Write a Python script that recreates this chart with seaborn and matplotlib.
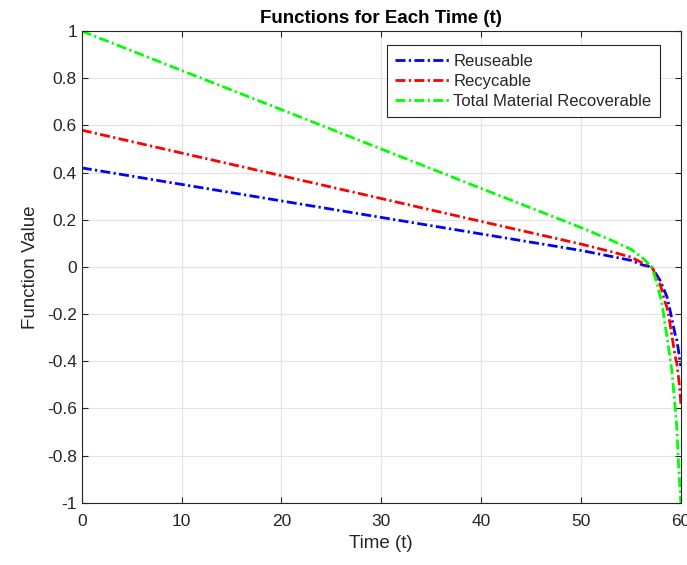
import numpy as np
import pandas as pd
import matplotlib
matplotlib.use("Agg")
import matplotlib.pyplot as plt
import seaborn as sns

# values
t = [0, 10, 20, 30, 40, 50, 53, 55, 56.2, 57.1, 57.6, 57.9, 58.1, 58.4,
     58.6, 58.8, 59.1, 59.4, 59.6, 59.75, 59.9, 60]
reuse = [0.42, 0.35, 0.28, 0.21, 0.14, 0.07, 0.045, 0.028, 0.008, 0.0, -0.035,
         -0.055, -0.075, -0.105, -0.125, -0.16, -0.22, -0.28, -0.31, -0.35, -0.395, -0.42]
recycle = [0.58, 0.483, 0.387, 0.29, 0.193, 0.097, 0.065, 0.042, 0.016, 0.0, -0.045,
           -0.07, -0.10, -0.145, -0.17, -0.21, -0.29, -0.37, -0.41, -0.46, -0.52, -0.58]
total = [1.0, 0.833, 0.667, 0.5, 0.333, 0.167, 0.114, 0.075, 0.037, 0.0, -0.068,
         -0.12, -0.15, -0.24, -0.29, -0.35, -0.44, -0.58, -0.68, -0.82, -0.93, -1.0]

series_names = ["Reuseable", "Recycable", "Total Material Recoverable"]
series_colors = ["#0000ff", "#ff0000", "#00ff00"]

sns.set_style("whitegrid")
plt.rcParams['font.family'] = ['Liberation Sans', 'DejaVu Sans']
plt.rcParams['axes.unicode_minus'] = False

df = pd.DataFrame({"t": t * 3,
                   "value": reuse + recycle + total,
                   "series": [series_names[0]] * len(t) + [series_names[1]] * len(t)
                             + [series_names[2]] * len(t)})

fig = plt.figure(figsize=(6.87, 5.65), dpi=100)
ax = fig.add_axes([0.119, 0.110, 0.872, 0.835])

dashdot = (0, (3.6, 1.2, 0.8, 1.2))
for name, col in zip(series_names, series_colors):
    sub = df[df["series"] == name]
    sns.lineplot(data=sub, x="t", y="value", ax=ax, color=col, linewidth=2,
                 linestyle=dashdot, label=name)

ax.set_xlim(0, 60)
ax.set_ylim(-1, 1)
ax.set_xticks(np.arange(0, 61, 10))
yt = np.round(np.arange(-1, 1.01, 0.2), 1) + 0.0
ax.set_yticks(yt)
ax.set_yticklabels([f"{v + 0.0:g}" for v in yt])

text_col = "#262626"
ax.grid(True, color="#e3e3e3", linewidth=0.8)
for s in ax.spines.values():
    s.set_color("#262626")
    s.set_linewidth(0.8)
ax.tick_params(axis="both", direction="in", length=4, colors=text_col,
               labelsize=12.5, top=True, right=True, bottom=True, left=True)
ax.tick_params(axis="x", pad=8)

ax.set_xlabel("Time (t)", fontsize=13.5, color=text_col, labelpad=4)
ax.set_ylabel("Function Value", fontsize=13.5, color=text_col, labelpad=6)
ax.set_title("Functions for Each Time (t)", fontsize=13.5, fontweight="bold",
             color="black", pad=6)

leg = ax.legend(loc="upper right", bbox_to_anchor=(0.965, 0.970), borderaxespad=0,
                fontsize=12, frameon=True, fancybox=False, framealpha=1,
                edgecolor="#262626", handlelength=3.3, handletextpad=0.2,
                borderpad=0.5, labelspacing=0.3)
leg.get_frame().set_linewidth(0.8)

plt.savefig("out.png", dpi=100)
plt.close()
